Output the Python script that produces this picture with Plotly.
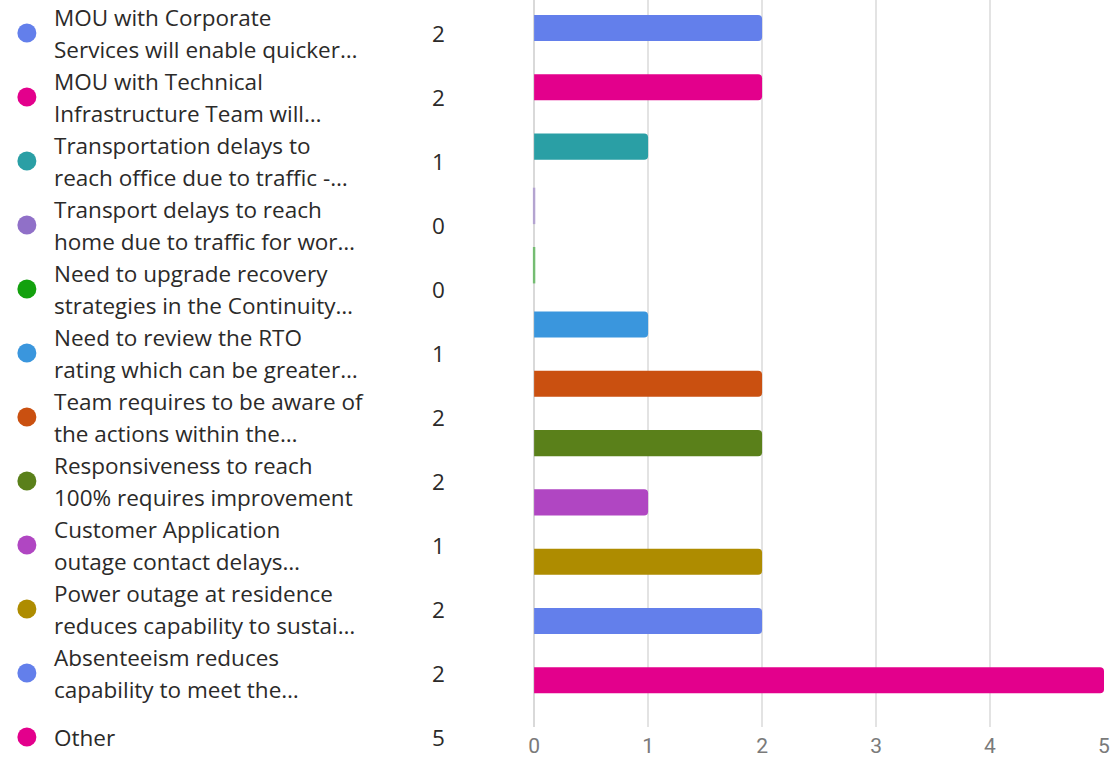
import plotly.graph_objects as go

# ---- data ----
label_lines = [
    ("MOU with Corporate", "Services will enable quicker…"),
    ("MOU with Technical", "Infrastructure Team will…"),
    ("Transportation delays to", "reach office due to traffic -…"),
    ("Transport delays to reach", "home due to traffic for wor…"),
    ("Need to upgrade recovery", "strategies in the Continuity…"),
    ("Need to review the RTO", "rating which can be greater…"),
    ("Team requires to be aware of", "the actions within the…"),
    ("Responsiveness to reach", "100% requires improvement"),
    ("Customer Application", "outage contact delays…"),
    ("Power outage at residence", "reduces capability to sustai…"),
    ("Absenteeism reduces", "capability to meet the…"),
    ("Other",),
]
categories = [" ".join(l) for l in label_lines]
counts = [2, 2, 1, 0, 0, 1, 2, 2, 1, 2, 2, 5]
colors = ["#637FEB", "#E3008C", "#2A9FA5", "#9070C8", "#13A10E", "#3A96DD",
          "#CA5010", "#5A801A", "#B046C2", "#AE8C00", "#637FEB", "#E3008C"]
x_ticks = [0, 1, 2, 3, 4, 5]

# ---- layout constants (pixels) ----
W, H = 1114, 759
MR = 10
PW = W - MR
BAR_X0 = 531
BAR_BOTTOM = 727
LEFT_FRAC = 0.46
TEXT_FONT = "Open Sans, Segoe UI, sans-serif"
TEXT_COLOR = "#2B2A29"
TEXT_SIZE = 22.5
DOT_X, TEXT_X, COUNT_X = 21, 46, 435

idx = list(range(len(categories)))

fig = go.Figure()

# bars
fig.add_trace(go.Bar(
    x=counts, y=categories, orientation="h",
    marker=dict(color=colors, cornerradius=4, line=dict(width=0)),
    width=0.44, hoverinfo="skip", showlegend=False,
    xaxis="x", yaxis="y",
))

# zero-value slivers
zero_y = [c for c, v in zip(categories, counts) if v == 0]
zero_x = [v for v in counts if v == 0]
zero_c = [col for col, v in zip(colors, counts) if v == 0]
fig.add_trace(go.Scatter(
    x=zero_x, y=zero_y, mode="markers",
    marker=dict(symbol="line-ns", size=26, line=dict(width=2.5, color=zero_c)),
    opacity=0.5, hoverinfo="skip", showlegend=False, cliponaxis=False,
    xaxis="x", yaxis="y",
))

# legend dots
fig.add_trace(go.Scatter(
    x=[DOT_X] * len(idx), y=idx, mode="markers",
    marker=dict(size=19, color=colors),
    hoverinfo="skip", showlegend=False, cliponaxis=False,
    xaxis="x2", yaxis="y2",
))

annotations = []
for k, lines in enumerate(label_lines):
    n = len(lines)
    for j, line in enumerate(lines):
        shift = (n - 1) * 16 - j * 32
        annotations.append(dict(
            x=TEXT_X, y=k, xref="x2", yref="y2", text=line, showarrow=False,
            xanchor="left", yanchor="middle", yshift=shift,
            font=dict(family=TEXT_FONT, size=TEXT_SIZE, color=TEXT_COLOR),
        ))
    annotations.append(dict(
        x=COUNT_X, y=k, xref="x2", yref="y2", text=str(counts[k]), showarrow=False,
        xanchor="center", yanchor="middle",
        font=dict(family=TEXT_FONT, size=TEXT_SIZE, color=TEXT_COLOR),
    ))

bar_pitch = 59.3
bar_top_center = 28
y_top = -bar_top_center / bar_pitch
y_bot = y_top + BAR_BOTTOM / bar_pitch

leg_pitch = 64
leg_top_center = 33
y2_top = -leg_top_center / leg_pitch
y2_bot = y2_top + H / leg_pitch

fig.update_layout(
    width=W, height=H,
    margin=dict(l=0, r=MR, t=0, b=0, pad=0),
    paper_bgcolor="white", plot_bgcolor="white",
    annotations=annotations,
    xaxis=dict(
        domain=[BAR_X0 / PW, 1], range=[0, 5], tickvals=x_ticks,
        showgrid=True, gridcolor="#E3E3E3", gridwidth=2,
        zeroline=True, zerolinecolor="#D9D9D9", zerolinewidth=2,
        showline=False, ticks="", anchor="y", ticklabelstandoff=4,
        tickfont=dict(family="Roboto, sans-serif", size=21, color="#7A7A7A"),
        fixedrange=True,
    ),
    yaxis=dict(
        domain=[(H - BAR_BOTTOM) / H, 1],
        type="category", categoryorder="array", categoryarray=categories,
        range=[y_bot, y_top], showticklabels=False, showgrid=False,
        zeroline=False, showline=False, anchor="x", fixedrange=True,
    ),
    xaxis2=dict(domain=[0, LEFT_FRAC], range=[0, LEFT_FRAC * PW], visible=False,
                anchor="y2", fixedrange=True),
    yaxis2=dict(domain=[0, 1], range=[y2_bot, y2_top], visible=False,
                anchor="x2", fixedrange=True),
)

fig.write_html("out.html", config={"displayModeBar": False},
               post_script="document.body.style.margin='0px';")
